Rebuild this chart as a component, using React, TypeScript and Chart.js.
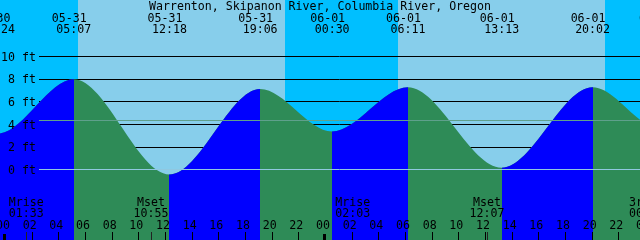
import React, { useEffect, useRef } from "react";
import { Chart, registerables, Filler } from "chart.js";

Chart.register(...registerables);
// Filler is attached as a local plugin after our clip plugin so our clip applies to the flood fill
Chart.unregister(Filler);

// ---- Data ----
const stationTitle = "Warrenton, Skipanon River, Columbia River, Oregon";

// Tide extremes: date label, day offset from 05-31, clock time, height (ft)
const tideDates = ["05-30", "05-30", "05-31", "05-31", "05-31", "06-01", "06-01", "06-01", "06-01", "06-02", "06-02"];
const tideDayOffsets = [-1, -1, 0, 0, 0, 1, 1, 1, 1, 2, 2];
const tideClock = ["17:40", "23:24", "05:07", "12:18", "19:06", "00:30", "06:11", "13:13", "20:02", "01:10", "07:20"];
const tideHeights = [7.4, 3.2, 8.0, -0.4, 7.15, 3.4, 7.3, 0.2, 7.3, 3.6, 8.0];

// Sun events (day offset, clock)
const sunDayOffsets = [0, 1];
const sunriseClock = ["05:25", "05:25"];
const sunsetClock = ["20:58", "20:58"];

// Moon events
const moonLabels = ["Mrise", "Mset", "Mrise", "Mset", "3rd Q"];
const moonDayOffsets = [0, 0, 1, 1, 2];
const moonClock = ["01:33", "10:55", "02:03", "12:07", "00:04"];

// Hour axis ticks (day offset, hour)
const hourTickDays = [0, 0, 0, 0, 0, 0, 0, 0, 0, 0, 0, 0, 1, 1, 1, 1, 1, 1, 1, 1, 1, 1, 1, 1, 2];
const hourTickHours = [0, 2, 4, 6, 8, 10, 12, 14, 16, 18, 20, 22, 0, 2, 4, 6, 8, 10, 12, 14, 16, 18, 20, 22, 0];

// Height axis
const heightTicks = [0, 2, 4, 6, 8, 10];
const gridHeights = [2, 4, 6, 8, 10];
const meanLevelFt = 4.4;
const datumFt = 0;

// Axis ranges (hours from 05-31 00:00, feet)
const xMinHours = -0.4125;
const xMaxHours = 47.59;
const yMinFt = -6.18;
const yMaxFt = 15.0;

// ---- Styles ----
const NIGHT = "#00BFFF";
const DAY = "#87CEEB";
const FLOOD = "#0000FF";
const EBB = "#2E8B57";
const MSL_COLOR = "#5fa08c";
const DATUM_COLOR = "#90c8e0";
const FONT = "11.6px 'DejaVu Sans Mono', monospace";

const toHours = (day: number, clock: string) => {
  const [h, m] = clock.split(":").map(Number);
  return day * 24 + h + m / 60;
};

const pad2 = (n: number) => (n < 10 ? "0" + n : "" + n);

const tidePlugin = {
  id: "tideDecor",
  beforeDatasetsDraw(chart: any) {
    const { ctx, scales, width, height } = chart;
    const xs = scales.x;
    const ys = scales.y;
    ctx.save();
    ctx.fillStyle = NIGHT;
    ctx.fillRect(0, 0, width, height);
    ctx.fillStyle = DAY;
    sunDayOffsets.forEach((d, i) => {
      const x0 = Math.round(xs.getPixelForValue(toHours(d, sunriseClock[i])));
      const x1 = Math.round(xs.getPixelForValue(toHours(d, sunsetClock[i])));
      ctx.fillRect(x0, 0, x1 - x0, height);
    });
    ctx.strokeStyle = "#000";
    ctx.lineWidth = 1;
    ctx.beginPath();
    gridHeights.forEach((v) => {
      const py = Math.floor(ys.getPixelForValue(v)) + 0.5;
      ctx.moveTo(39, py);
      ctx.lineTo(width, py);
    });
    ctx.stroke();
    ctx.restore();
  },
  beforeDatasetDraw(chart: any, args: any) {
    if (args.index !== 0) return;
    const { ctx, scales, height } = chart;
    const xs = scales.x;
    ctx.save();
    ctx.beginPath();
    for (let i = 0; i < tideHeights.length - 1; i++) {
      if (tideHeights[i + 1] > tideHeights[i]) {
        const x0 = Math.round(xs.getPixelForValue(toHours(tideDayOffsets[i], tideClock[i])));
        const x1 = Math.round(xs.getPixelForValue(toHours(tideDayOffsets[i + 1], tideClock[i + 1])));
        ctx.rect(x0, 0, x1 - x0, height);
      }
    }
    ctx.clip();
  },
  afterDatasetDraw(chart: any, args: any) {
    if (args.index !== 0) return;
    chart.ctx.restore();
  },
  afterDatasetsDraw(chart: any) {
    const { ctx, scales, width } = chart;
    const xs = scales.x;
    const ys = scales.y;
    ctx.save();
    ctx.lineWidth = 1;
    const lineAt = (v: number, color: string) => {
      const py = Math.floor(ys.getPixelForValue(v)) + 0.5;
      ctx.strokeStyle = color;
      ctx.beginPath();
      ctx.moveTo(39, py);
      ctx.lineTo(width, py);
      ctx.stroke();
    };
    lineAt(meanLevelFt, MSL_COLOR);
    lineAt(datumFt, DATUM_COLOR);

    ctx.font = FONT;
    ctx.fillStyle = "#000";
    ctx.textBaseline = "alphabetic";

    ctx.textAlign = "right";
    heightTicks.forEach((v) => {
      const py = ys.getPixelForValue(v);
      ctx.fillText(v + " ft", 36, py + 4);
    });

    ctx.textAlign = "center";
    ctx.fillText(stationTitle, width / 2, 10);

    tideClock.forEach((c, i) => {
      const px = xs.getPixelForValue(toHours(tideDayOffsets[i], c));
      ctx.fillText(tideDates[i], px - 4.5, 21.7);
      ctx.fillText(c, px, 33.3);
    });

    moonLabels.forEach((lab, i) => {
      const px = xs.getPixelForValue(toHours(moonDayOffsets[i], moonClock[i]));
      ctx.fillText(lab, px, 206);
      ctx.fillText(moonClock[i], px, 217);
      ctx.fillStyle = "#222";
      ctx.fillRect(Math.floor(px), 232, 1, 8);
      ctx.fillStyle = "#000";
    });

    hourTickHours.forEach((h, i) => {
      const px = xs.getPixelForValue(hourTickDays[i] * 24 + h);
      ctx.fillText(pad2(h), px - 2.5, 229);
      if (h === 0) {
        ctx.fillRect(Math.round(px) - 2, 234, 3, 6);
      } else {
        ctx.fillRect(Math.floor(px), 232, 1, 8);
      }
    });
    ctx.restore();
  },
};

export default function App() {
  const canvasRef = useRef<HTMLCanvasElement | null>(null);

  useEffect(() => {
    const canvas = canvasRef.current;
    if (!canvas) return;
    const points = tideClock.map((c, i) => ({
      x: toHours(tideDayOffsets[i], c),
      y: tideHeights[i],
    }));
    const chart = new Chart(canvas, {
      type: "line",
      data: {
        datasets: [
          {
            // flood (rising) water, clipped to rising intervals, drawn on top
            data: points,
            borderWidth: 0,
            borderColor: "rgba(0,0,0,0)",
            pointRadius: 0,
            fill: "start",
            cubicInterpolationMode: "monotone",
            backgroundColor: FLOOD,
          } as any,
          {
            // ebb (whole water body) underneath
            data: points,
            borderWidth: 0,
            borderColor: "rgba(0,0,0,0)",
            pointRadius: 0,
            fill: "start",
            cubicInterpolationMode: "monotone",
            backgroundColor: EBB,
          } as any,
        ],
      },
      options: {
        animation: false,
        responsive: false,
        maintainAspectRatio: false,
        devicePixelRatio: 1,
        layout: { padding: 0 },
        events: [],
        scales: {
          x: { type: "linear", min: xMinHours, max: xMaxHours, display: false },
          y: { type: "linear", min: yMinFt, max: yMaxFt, display: false },
        },
        plugins: {
          legend: { display: false },
          tooltip: { enabled: false },
          filler: { propagate: true, drawTime: "beforeDatasetDraw" },
        } as any,
      },
      plugins: [tidePlugin, Filler],
    });
    return () => chart.destroy();
  }, []);

  return (
    <div style={{ position: "absolute", left: 0, top: 0, width: 640, height: 240 }}>
      <canvas ref={canvasRef} width={640} height={240} />
    </div>
  );
}
